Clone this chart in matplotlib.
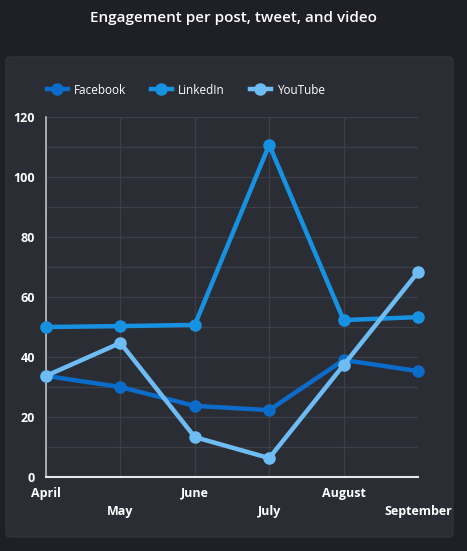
import matplotlib
matplotlib.use("Agg")
import matplotlib.pyplot as plt
from matplotlib.patches import FancyBboxPatch
from matplotlib.lines import Line2D

months = ["April", "May", "June", "July", "August", "September"]
facebook = [33.7, 30, 23.7, 22.3, 39, 35.3]
linkedin = [50, 50.3, 50.7, 110.7, 52.3, 53.3]
youtube = [33.7, 44.7, 13.3, 6.3, 37.3, 68.3]
series = [("Facebook", facebook, "#0b6cc9"), ("LinkedIn", linkedin, "#1792e2"), ("YouTube", youtube, "#6dbdf4")]

plt.rcParams['font.family'] = ['Open Sans', 'DejaVu Sans']

W, H = 467, 551
fig = plt.figure(figsize=(W/100, H/100), dpi=100, facecolor="#1f2025")

panel = FancyBboxPatch((6/W, 1-537/H), (453-6)/W, (537-57)/H,
                       boxstyle="round,pad=0,rounding_size=0.008",
                       transform=fig.transFigure, facecolor="#2b2d35",
                       edgecolor="#34363e", linewidth=0.8, zorder=-10)
fig.patches.append(panel)

fig.text(233/W, 1-18/H, "Engagement per post, tweet, and video", color="white",
         fontsize=11, ha="center", va="center", fontweight="semibold")

ax = fig.add_axes([46/W, 1-477/H, (418-46)/W, (477-117)/H])
ax.set_facecolor("none")
x = list(range(len(months)))
for name, vals, col in series:
    ax.plot(x, vals, color=col, lw=3.2, marker="o", ms=8, label=name, zorder=3, clip_on=False)

ax.set_xlim(0, len(months)-1)
ax.set_ylim(0, 120)
ax.set_yticks(range(0, 121, 20))
ax.set_yticks(range(0, 121, 10), minor=True)
ax.set_xticks(x)
ax.set_xticklabels([])
ax.grid(True, which="both", axis="y", color="#3d3f48", lw=0.9)
ax.grid(True, which="major", axis="x", color="#3d3f48", lw=0.9)
ax.tick_params(axis="y", which="both", length=0, colors="white", labelsize=9, pad=8)
ax.tick_params(axis="x", length=0)
for lbl in ax.get_yticklabels():
    lbl.set_fontweight("bold")
for s in ["top", "right"]:
    ax.spines[s].set_visible(False)
ax.spines["left"].set_color("#bfbfbf")
ax.spines["bottom"].set_color("#e8e8e8")
ax.spines["left"].set_linewidth(1.2)
ax.spines["bottom"].set_linewidth(1.5)
ax.spines["left"].set_zorder(2)
ax.spines["bottom"].set_zorder(2)

for i, m in enumerate(months):
    off = 16 if i % 2 == 0 else 35
    ax.annotate(m, (i, 0), xycoords="data", xytext=(0, -off), textcoords="offset pixels",
                ha="center", va="center", color="white", fontsize=9, fontweight="bold",
                annotation_clip=False)

handles = [Line2D([0], [0], color=c, lw=3.2, marker="o", ms=8) for _, _, c in series]
leg = fig.legend(handles, [s[0] for s in series], loc="center left",
                 bbox_to_anchor=(36/W, 1-90/H), ncol=3, frameon=False,
                 labelcolor="white", fontsize=8.5, handlelength=1.8, columnspacing=2.1,
                 handletextpad=0.5)

fig.savefig("out.png", dpi=100, facecolor=fig.get_facecolor())
